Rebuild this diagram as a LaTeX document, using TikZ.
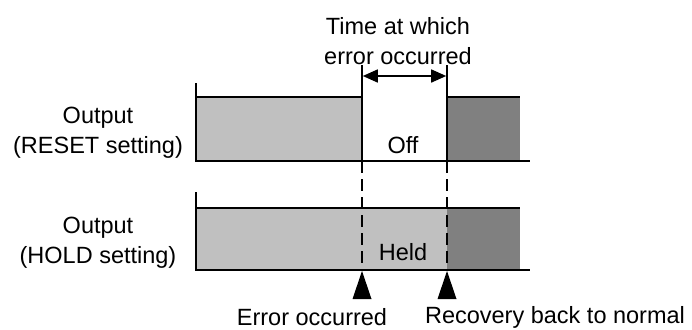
\documentclass[tikz,border=0pt]{standalone}
\usepackage{fontspec}
\setmainfont{Liberation Sans}
\usetikzlibrary{arrows.meta,positioning,calc}
\definecolor{lightgr}{HTML}{C0C0C0}
\definecolor{darkgr}{HTML}{808080}
\tikzset{lbl/.style={font=\fontsize{23.5}{30}\selectfont, inner sep=0pt, align=center},
	guide/.style={dash pattern=on 12pt off 6pt}}

\begin{document}
\begin{tikzpicture}[x=1pt, y=-1pt, line width=1.6pt]
\useasboundingbox (0,0) rectangle (692,329);
% output with RESET setting
\fill[lightgr] (196,97) rectangle (362,161);
\fill[darkgr] (447,97) rectangle (520,161);
\draw (196,83) -- (196,161) -- (530,161);
\draw (196,97) -- (362,97) (447,97) -- (520,97);
% output with HOLD setting
\fill[lightgr] (196,208) rectangle (447,270);
\fill[darkgr] (447,208) rectangle (520,270);
\draw (196,192) -- (196,270) -- (530,270);
\draw (196,208) -- (520,208);

\coordinate (errTop) at (362,65);
\coordinate (errBase) at (362,161);
\coordinate (recTop) at (447,65);
\coordinate (recBase) at (447,161);
\coordinate (errMark) at (362,271);
\coordinate (recMark) at (447,271);

\draw (errTop) -- (errBase);
\draw (recTop) -- (recBase);
\draw[guide] (errBase) -- (errMark);
\draw[guide] (recBase) -- (recMark);
\fill (errMark) -- ++(-9.5,28) -- ++(19,0) -- cycle;
\fill (recMark) -- ++(-9.5,28) -- ++(19,0) -- cycle;
\draw[{Triangle[length=15pt,width=13pt]}-{Triangle[length=15pt,width=13pt]}, shorten <=0.8pt, shorten >=0.8pt] ($(errTop)+(0,11)$) coordinate (arrL) -- ($(recTop)+(0,11)$) coordinate (arrR);

\node[lbl] (errTime) at (398,41) {Time at which\\error occurred};
\node[lbl] (resetOut) at (98,133) {Output\\(RESET setting)};
\node[lbl] (holdOut) at (98,243) {Output\\(HOLD setting)};
\node[lbl] (offLbl) at (403,145) {Off};
\node[lbl] (heldLbl) at (403,252) {Held};
\node[lbl] (errLbl) at (312,317) {Error occurred};
\node[lbl] (recLbl) at (555,317) {Recovery back to normal};
\end{tikzpicture}
\end{document}
